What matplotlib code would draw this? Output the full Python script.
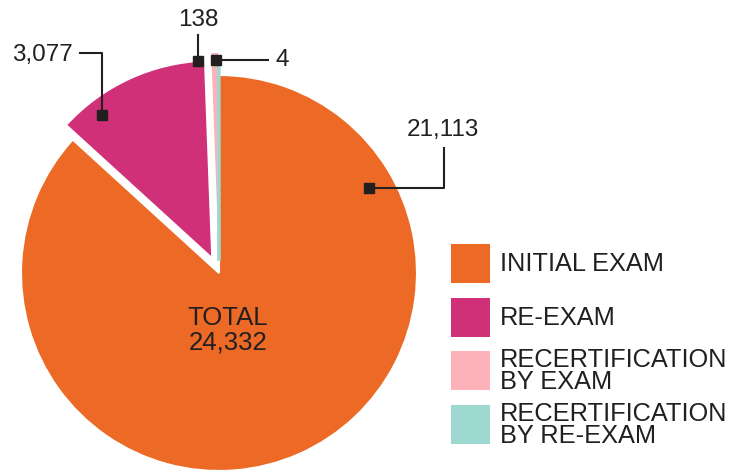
import matplotlib
matplotlib.use("Agg")
import matplotlib.pyplot as plt
from matplotlib.patches import Rectangle

# exam counts
categories = ["INITIAL EXAM", "RE-EXAM", "RECERTIFICATION\nBY EXAM", "RECERTIFICATION\nBY RE-EXAM"]
values = [21113, 3077, 138, 4]
value_labels = ["21,113", "3,077", "138", "4"]
colors = ["#EC6A25", "#D03077", "#FDB1B9", "#9DD9D1"]
explode_px = [0, 16, 22, 12]
total_label = "TOTAL\n24,332"

plt.rcParams["font.family"] = ["Liberation Sans", "DejaVu Sans"]

W, H = 745, 475
fig = plt.figure(figsize=(W / 100, H / 100), dpi=100)
ax = fig.add_axes([0, 0, 1, 1])

# pie drawn in pixel space, y measured from bottom (explode is absolute here)
cx, cy, r = 219, H - 273, 198
wedges, _ = ax.pie(values, colors=colors, startangle=90, counterclock=False,
                   center=(cx, cy), radius=r, explode=explode_px,
                   wedgeprops=dict(edgecolor="white", linewidth=1.5), frame=True)
# thin slices: no white edge so they stay visible, teal given its own outline
wedges[2].set_linewidth(0)
wedges[3].set_edgecolor(colors[3])
wedges[3].set_linewidth(2)
ax.set_xlim(0, W)
ax.set_ylim(0, H)
ax.set_aspect("equal")
ax.axis("off")

ax.text(cx + 9, H - 330, total_label, ha="center", va="center",
        fontsize=18.5, color="#231F20", linespacing=1.05)

# callouts: label text, leader line points, marker point
lc = "#231F20"
def callout(xs, ys, tx, ty, txt, ha):
    ax.plot(xs, [H - y for y in ys], color=lc, lw=1.5)
    ax.plot(xs[-1], H - ys[-1], "s", color=lc, ms=7.5)
    ax.text(tx, H - ty, txt, ha=ha, va="center", fontsize=17.5, color=lc)

callout([80, 102, 102], [53, 53, 115], 73, 55, value_labels[1], "right")
callout([198, 198], [35, 61], 198, 20, value_labels[2], "center")
callout([268, 216], [60, 60], 276, 60, value_labels[3], "left")
callout([444, 444, 369], [148, 188, 188], 443, 130, value_labels[0], "center")

# legend
box_tops = [244, 298, 351, 405]
for top, c, lab in zip(box_tops, colors, categories):
    ax.add_patch(Rectangle((451, H - top - 39), 39, 39, color=c, lw=0))
    ax.text(500, H - top - 20, lab, ha="left", va="center",
            fontsize=18.3, color=lc, linespacing=0.85)

fig.savefig("out.png", dpi=100)
